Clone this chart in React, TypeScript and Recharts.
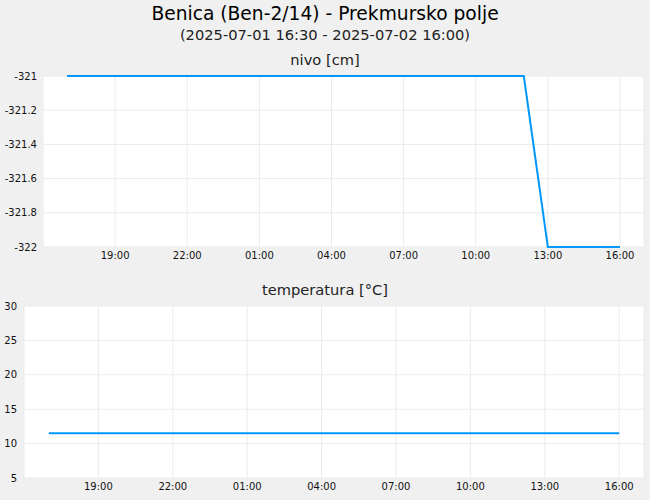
import React from "react";
import { LineChart, Line, XAxis, YAxis, CartesianGrid } from "recharts";

// hours since 2025-07-01 16:00
const hours = [1, 2, 3, 4, 5, 6, 7, 8, 9, 10, 11, 12, 13, 14, 15, 16, 17, 18, 19, 20, 21, 22, 23, 24];
const nivo = [-321, -321, -321, -321, -321, -321, -321, -321, -321, -321, -321, -321, -321, -321, -321, -321, -321, -321, -321, -321, -322, -322, -322, -322];
const temperatura = [11.5, 11.5, 11.5, 11.5, 11.5, 11.5, 11.5, 11.5, 11.5, 11.5, 11.5, 11.5, 11.5, 11.5, 11.5, 11.5, 11.5, 11.5, 11.5, 11.5, 11.5, 11.5, 11.5, 11.5];

const xTicks = [3, 6, 9, 12, 15, 18, 21, 24];
const xTickLabels = ["19:00", "22:00", "01:00", "04:00", "07:00", "10:00", "13:00", "16:00"];
const nivoTicks = [-322, -321.8, -321.6, -321.4, -321.2, -321];
const tempTicks = [5, 10, 15, 20, 25, 30];

const title = "Benica (Ben-2/14) - Prekmursko polje";
const subtitle = "(2025-07-01 16:30 - 2025-07-02 16:00)";
const nivoTitle = "nivo [cm]";
const tempTitle = "temperatura [°C]";

const nivoData = hours.map((h, i) => ({ h, v: nivo[i] }));
const tempData = hours.map((h, i) => ({ h, v: temperatura[i] }));

const FONT = "DejaVu Sans";
const LINE = "#0098f8";
const GRID = "#ebebeb";

const fmtX = (v: number) => {
  const i = xTicks.indexOf(v);
  return i >= 0 ? xTickLabels[i] : "";
};

const tickStyle = { fontSize: 10, fill: "#111", fontFamily: FONT };

function Label({ text, top, size, color }: { text: string; top: number; size: number; color: string }) {
  return (
    <div
      style={{
        position: "absolute",
        left: 0,
        top: top - size * 0.6,
        width: 650,
        height: size * 1.2,
        lineHeight: `${size * 1.2}px`,
        textAlign: "center",
        fontSize: size,
        fontFamily: FONT,
        color,
        whiteSpace: "nowrap",
      }}
    >
      {text}
    </div>
  );
}

export default function App() {
  return (
    <div style={{ position: "absolute", left: 0, top: 0, width: 650, height: 500, background: "#f0f0f0", overflow: "hidden" }}>
      <Label text={title} top={14} size={18.67} color="#000" />
      <Label text={subtitle} top={34.5} size={14.67} color="#222" />
      <Label text={nivoTitle} top={60} size={14.67} color="#222" />
      <Label text={tempTitle} top={290} size={14.67} color="#222" />

      <div style={{ position: "absolute", left: 0, top: 70 }}>
        <LineChart width={650} height={207} data={nivoData} margin={{ top: 6, right: 6, bottom: 0, left: 0 }}>
          <CartesianGrid stroke={GRID} fill="#ffffff" />
          <XAxis
            dataKey="h"
            type="number"
            domain={[0, 25]}
            ticks={xTicks}
            tickFormatter={fmtX}
            axisLine={false}
            tickLine={false}
            tickSize={0}
            tickMargin={5}
            height={30}
            tick={tickStyle}
            interval={0}
          />
          <YAxis
            type="number"
            domain={[-322, -321]}
            ticks={nivoTicks}
            tickFormatter={(v: number) => String(v)}
            axisLine={false}
            tickLine={false}
            tickSize={0}
            tickMargin={6}
            width={43}
            tick={tickStyle}
            interval={0}
          />
          <Line dataKey="v" stroke={LINE} strokeWidth={2} dot={false} isAnimationActive={false} />
        </LineChart>
      </div>

      <div style={{ position: "absolute", left: 0, top: 300 }}>
        <LineChart width={650} height={200} data={tempData} margin={{ top: 6, right: 6, bottom: 0, left: 0 }}>
          <CartesianGrid stroke={GRID} fill="#ffffff" />
          <XAxis
            dataKey="h"
            type="number"
            domain={[0, 25]}
            ticks={xTicks}
            tickFormatter={fmtX}
            axisLine={false}
            tickLine={false}
            tickSize={0}
            tickMargin={5}
            height={22}
            tick={tickStyle}
            interval={0}
          />
          <YAxis
            type="number"
            domain={[5, 30]}
            ticks={tempTicks}
            axisLine={false}
            tickLine={false}
            tickSize={0}
            tickMargin={7}
            width={24}
            tick={tickStyle}
            interval={0}
          />
          <Line dataKey="v" stroke={LINE} strokeWidth={2} dot={false} isAnimationActive={false} />
        </LineChart>
      </div>
    </div>
  );
}
